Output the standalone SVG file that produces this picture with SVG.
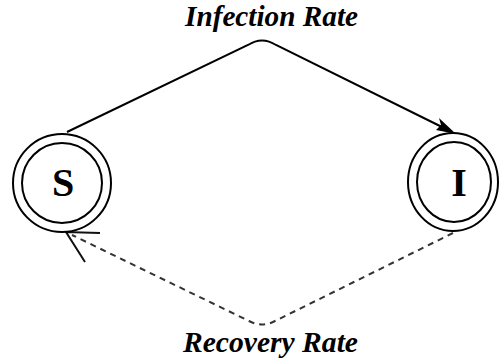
<svg xmlns="http://www.w3.org/2000/svg" width="501" height="362" viewBox="0 0 501 362">
<style>
.ring{fill:none;stroke:#000;stroke-width:2}
.lbl{font-family:"Liberation Serif",serif;font-weight:bold;fill:#000}
.edge{font-family:"Liberation Serif",serif;font-weight:bold;font-style:italic;font-size:29px;fill:#000}
.solid{fill:none;stroke:#000;stroke-width:2}
.dash{fill:none;stroke:#333;stroke-width:2;stroke-dasharray:6 5}
</style>
<rect width="501" height="362" fill="#fff"/>
<g id="connectors">
<path class="solid" d="M67,132 L248,45 Q262,36 276,45 L446,129"/>
<path d="M456,134 L436,130 L441,125 L439,118 Z" fill="#000"/>
<path class="dash" d="M453,233 L275,321 Q262,328 249,321 L72,235"/>
<path d="M100,233 L66,232 L85,262" fill="none" stroke="#111" stroke-width="2"/>
</g>
<g id="S">
<circle class="ring" cx="62" cy="183" r="49"/>
<circle class="ring" cx="62" cy="183" r="40"/>
<text class="lbl" x="63" y="196" font-size="40" text-anchor="middle">S</text>
</g>
<g id="I">
<ellipse class="ring" cx="453" cy="182" rx="45" ry="49"/>
<ellipse class="ring" cx="454" cy="182" rx="37" ry="40"/>
<text class="lbl" x="459" y="196" font-size="40" text-anchor="middle">I</text>
</g>
<text class="edge" x="185" y="26" textLength="173" lengthAdjust="spacingAndGlyphs">Infection Rate</text>
<text class="edge" x="183" y="352" textLength="175" lengthAdjust="spacingAndGlyphs">Recovery Rate</text>
</svg>
